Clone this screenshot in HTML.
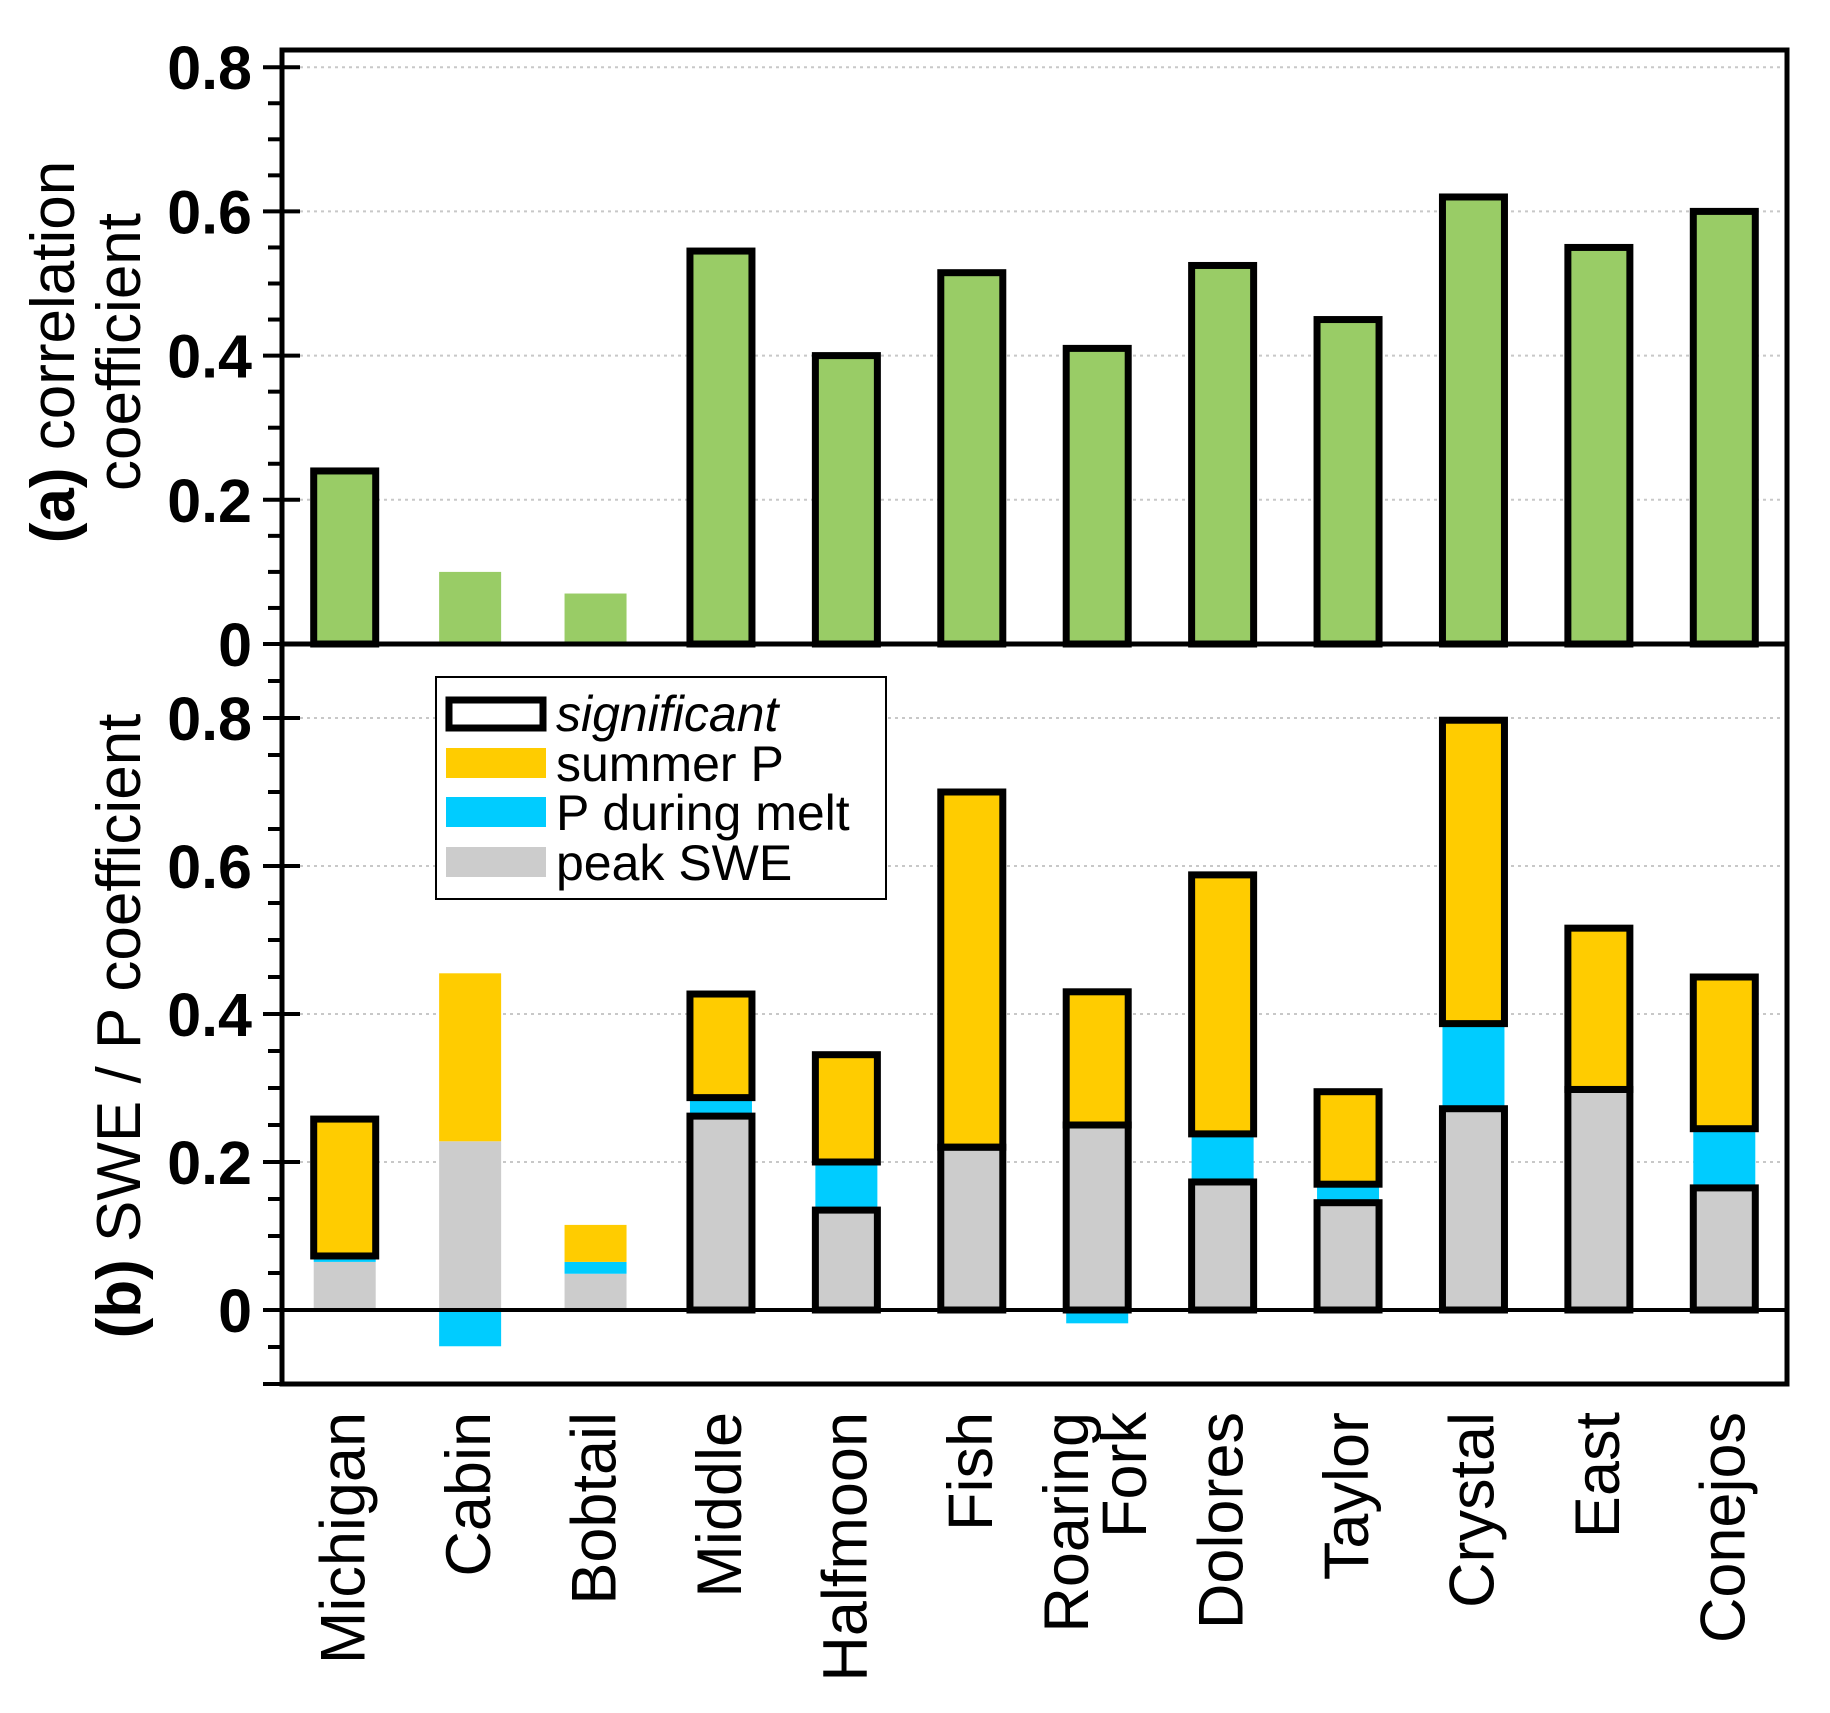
<!DOCTYPE html>
<html><head><meta charset="utf-8"><style>
html,body{margin:0;padding:0;background:#fff}
svg{display:block}
text{font-family:"Liberation Sans",Arial,sans-serif}
</style></head><body>
<svg id="chart" width="1830" height="1713" viewBox="0 0 1830 1713" xmlns="http://www.w3.org/2000/svg">
<g id="grid"></g>
<g id="bars"></g>
<g id="axes"></g>
<g id="labels"></g>
<g>
  <rect x="436" y="677" width="450" height="222" fill="#fff" stroke="#000" stroke-width="2"/>
  <rect x="449" y="700" width="94" height="28" fill="#fff" stroke="#000" stroke-width="7"/>
  <text x="556" y="731" font-size="50" font-style="italic">significant</text>
  <rect x="446" y="748" width="100" height="30" fill="#ffcc00"/>
  <text x="556" y="781" font-size="50">summer P</text>
  <rect x="446" y="797" width="100" height="30" fill="#00ccff"/>
  <text x="556" y="830" font-size="50">P during melt</text>
  <rect x="446" y="847" width="100" height="30" fill="#cccccc"/>
  <text x="556" y="880" font-size="50">peak SWE</text>
</g>
</svg>
<script>
const categories = ["Michigan","Cabin","Bobtail","Middle","Halfmoon","Fish","Roaring Fork","Dolores","Taylor","Crystal","East","Conejos"];
const corrValues = [0.24,0.10,0.07,0.545,0.40,0.515,0.41,0.525,0.45,0.62,0.55,0.60];
const corrSignificant = [1,0,0,1,1,1,1,1,1,1,1,1];
const sweValues = [0.065,0.228,0.049,0.262,0.135,0.22,0.25,0.173,0.145,0.272,0.298,0.165];
const meltValues = [0.008,-0.049,0.016,0.025,0.065,-0.004,-0.018,0.065,0.025,0.115,0.0,0.08];
const summerValues = [0.185,0.227,0.05,0.14,0.145,0.48,0.18,0.35,0.125,0.41,0.218,0.205];
const sweSignificant = [0,0,0,1,1,1,1,1,1,1,1,1];
const meltSignificant = [0,0,0,0,0,0,0,0,0,0,0,0];
const summerSignificant = [1,0,0,1,1,1,1,1,1,1,1,1];
const tickLabelsA = ["0","0.2","0.4","0.6","0.8"];
const tickValuesA = [0,0.2,0.4,0.6,0.8];
const tickLabelsB = ["0","0.2","0.4","0.6","0.8"];
const tickValuesB = [0,0.2,0.4,0.6,0.8];

const NS="http://www.w3.org/2000/svg";
const X0=282, X1=1787;
const yA=v=>644-v*721;
const yB=v=>1310-v*740;
const xC=i=>X0+(i+0.5)*(X1-X0)/categories.length;
const BW=62;
function mk(tag,attrs,parent){const e=document.createElementNS(NS,tag);for(const k in attrs)e.setAttribute(k,attrs[k]);parent.appendChild(e);return e;}
const grid=document.getElementById('grid'),bars=document.getElementById('bars'),axes=document.getElementById('axes'),labels=document.getElementById('labels');

tickValuesA.forEach(v=>{if(v===0)return;const l=mk('line',{x1:300,x2:1780,y1:yA(v),y2:yA(v),stroke:'#c8c8c8','stroke-width':2,'stroke-dasharray':'3,4'},grid);

});
tickValuesB.forEach(v=>{if(v===0)return;const l=mk('line',{x1:300,x2:1780,y1:yB(v),y2:yB(v),stroke:'#c8c8c8','stroke-width':2,'stroke-dasharray':'3,4'},grid);

});

function seg(i,v0,v1,fill,sig,yf,name){
  const top=Math.min(yf(v0),yf(v1)),h=Math.abs(yf(v1)-yf(v0));
  if(h<=0)return;
  const r=mk('rect',{x:xC(i)-BW/2,y:top,width:BW,height:h,fill:fill},bars);
  
  
  if(sig){r.setAttribute('stroke','#000');r.setAttribute('stroke-width',7);}
}
categories.forEach((c,i)=>{seg(i,0,corrValues[i],'#99cc66',corrSignificant[i],yA,'bar-corr-'+i);});
categories.forEach((c,i)=>{
  let base=0;
  seg(i,0,sweValues[i],'#cccccc',0,yB,'bar-swe-'+i);
  base=sweValues[i];
  if(meltValues[i]>=0){seg(i,base,base+meltValues[i],'#00ccff',0,yB,'bar-melt-'+i);base+=meltValues[i];}
  else seg(i,0,meltValues[i],'#00ccff',0,yB,'bar-melt-'+i);
  seg(i,base,base+summerValues[i],'#ffcc00',0,yB,'bar-summer-'+i);
});
categories.forEach((c,i)=>{
  let base=sweValues[i];
  if(sweSignificant[i])seg(i,0,sweValues[i],'none',1,yB,'outline-swe-'+i);
  if(meltValues[i]>=0){if(meltSignificant[i])seg(i,base,base+meltValues[i],'none',1,yB,'outline-melt-'+i);base+=meltValues[i];}
  if(summerSignificant[i])seg(i,base,base+summerValues[i],'none',1,yB,'outline-summer-'+i);
});

let e;
e=mk('rect',{x:X0,y:50,width:X1-X0,height:1384-50,fill:'none',stroke:'#000','stroke-width':5},axes);


e=mk('line',{x1:X0,x2:X1,y1:644,y2:644,stroke:'#000','stroke-width':5},axes);


e=mk('line',{x1:263,x2:X1,y1:yB(0),y2:yB(0),stroke:'#000','stroke-width':4},axes);



for(let k=0;k<=16;k++){const v=k*0.05;const y=yA(v);if(y<52)continue;const major=k%4===0;
 const t=mk('line',{x1:major?263:268,x2:major?300:X0,y1:y,y2:y,stroke:'#000','stroke-width':4},axes);
 
 }
for(let k=-2;k<=17;k++){const v=k*0.05;const y=yB(v);if(y<650||y>1386)continue;const major=k%4===0;
 const t=mk('line',{x1:major?263:268,x2:major?300:X0,y1:y,y2:y,stroke:'#000','stroke-width':4},axes);
 
 }
e=mk('line',{x1:263,x2:X0,y1:1384,y2:1384,stroke:'#000','stroke-width':4},axes);



tickValuesA.forEach((v,i)=>{const t=mk('text',{x:252,y:yA(v)+22,'text-anchor':'end','font-size':61,'font-weight':'bold'},labels);t.textContent=tickLabelsA[i];

});
tickValuesB.forEach((v,i)=>{const t=mk('text',{x:252,y:yB(v)+22,'text-anchor':'end','font-size':61,'font-weight':'bold'},labels);t.textContent=tickLabelsB[i];

});

categories.forEach((c,i)=>{
  const parts=c.split(' ');
  parts.forEach((p,j)=>{
    const off=parts.length>1?(j-0.5)*58:0;
    const x=xC(i)+off+20;
    const t=mk('text',{x:x,y:1412,'text-anchor':'end','font-size':63,transform:'rotate(-90 '+x+' 1412)'},labels);
    t.textContent=p;
    
    
  });
});

function title(x,y,html,name){const t=mk('text',{x:x,y:y,'text-anchor':'middle','font-size':62,transform:'rotate(-90 '+x+' '+y+')'},labels);t.innerHTML=html;

}
title(74,352,'<tspan font-weight="bold">(a)</tspan> correlation','y-axis-title-a-line1');
title(140,352,'coefficient','y-axis-title-a-line2');
title(140,1026,'<tspan font-weight="bold">(b)</tspan> SWE / P coefficient','y-axis-title-b');
</script>
</body></html>
